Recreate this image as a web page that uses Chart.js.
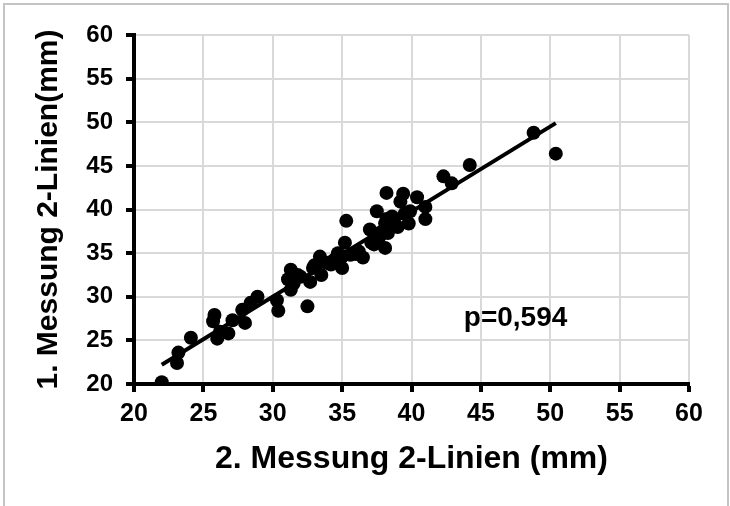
<!DOCTYPE html>
<html>
<head>
<meta charset="utf-8">
<title>Messung 2-Linien</title>
<script src="https://cdn.jsdelivr.net/npm/chart.js@4/dist/chart.umd.min.js"></script>
<style>
    html, body { margin: 0; padding: 0; background: #fff; }
    #frame {
        position: absolute;
        left: 3px;
        top: 3px;
        width: 722px;
        height: 520px;
        border: 2px solid #c4c4c4;
    }
    #chart { position: absolute; left: 0; top: 0; }
</style>
</head>
<body>
<div id="frame"></div>
<canvas id="chart" width="730" height="506"></canvas>
<script>
// 2. Messung (x) gegen 1. Messung (y), mm
const secondMeasure = [
    22.0, 23.1, 23.2, 24.1, 25.8, 25.7, 26.0, 26.2, 26.8, 27.1,
    27.8, 28.0, 28.4, 28.9, 30.4, 30.3, 31.3, 31.1, 31.3, 31.5,
    32.0, 32.5, 32.7, 32.9, 33.4, 33.5, 33.9, 34.2, 34.4, 34.7,
    35.0, 35.0, 35.2, 35.3, 35.6, 36.0, 36.5, 37.0, 37.1, 37.3,
    37.5, 37.7, 38.1, 38.2, 38.1, 38.3, 38.2, 38.8, 39.0, 39.2,
    39.4, 39.5, 39.8, 39.9, 40.4, 41.0, 41.0, 42.3, 42.9, 44.2,
    48.8, 50.4, 31.8, 33.0, 34.6, 36.2, 38.6, 37.8
];
const firstMeasure = [
    20.2, 22.4, 23.6, 25.3, 27.9, 27.2, 25.2, 26.0, 25.8, 27.3,
    28.5, 27.0, 29.3, 30.0, 28.4, 29.6, 33.1, 32.0, 30.8, 31.5,
    32.3, 28.9, 31.7, 33.3, 34.6, 32.5, 33.9, 33.7, 34.2, 35.0,
    33.3, 34.6, 36.2, 38.7, 34.8, 34.9, 34.5, 37.7, 36.2, 36.0,
    39.8, 36.9, 35.6, 41.9, 38.4, 37.3, 38.9, 38.3, 38.0, 40.9,
    41.8, 39.5, 38.4, 39.8, 41.4, 40.3, 38.9, 43.8, 43.0, 45.1,
    48.8, 46.4, 32.5, 33.6, 34.3, 35.2, 39.2, 37.4
];

// Regressionsgerade
const trendX = [22.0, 50.4];
const trendY = [22.2, 49.9];

const axisTicks = [20, 25, 30, 35, 40, 45, 50, 55, 60];
const pLabel = 'p=0,594';

const FONT = "'Liberation Sans', Arial, sans-serif";
const PLOT = { left: 134, right: 689, top: 35, bottom: 384 };
const W = 730, H = 506;

const points = secondMeasure.map((x, i) => ({ x: x, y: firstMeasure[i] }));
const trend = trendX.map((x, i) => ({ x: x, y: trendY[i] }));

// p-Wert als Text im Diagramm
const pValuePlugin = {
    id: 'pValue',
    afterDatasetsDraw(chart) {
        const ctx = chart.ctx;
        const xs = chart.scales.x, ys = chart.scales.y;
        ctx.save();
        ctx.font = 'bold 28px ' + FONT;
        ctx.fillStyle = '#000';
        ctx.textAlign = 'center';
        ctx.textBaseline = 'alphabetic';
        ctx.fillText(pLabel, xs.getPixelForValue(47.5), ys.getPixelForValue(26.7));
        ctx.restore();
    }
};

function axisOptions(isX) {
    return {
        type: 'linear',
        min: axisTicks[0],
        max: axisTicks[axisTicks.length - 1],
        afterBuildTicks(scale) {
            scale.ticks = axisTicks.map(v => ({ value: v }));
        },
        afterFit(scale) {
            if (isX) scale.height = H - PLOT.bottom;
            else scale.width = PLOT.left - 31;
        },
        ticks: {
            color: '#000',
            font: { family: FONT, size: isX ? 25 : 24, weight: 'bold' },
            padding: isX ? 7 : 13
        },
        grid: {
            color: '#d9d9d9',
            lineWidth: 2,
            tickColor: '#000',
            tickWidth: 4,
            tickLength: 8
        },
        border: { color: '#000', width: 4 },
        title: {
            display: true,
            text: isX ? '2. Messung 2-Linien (mm)' : '1. Messung 2-Linien(mm)',
            color: '#000',
            font: { family: FONT, size: isX ? 32 : 30, weight: 'bold' },
            padding: { top: 0, bottom: isX ? 28 : 0 }
        }
    };
}

new Chart(document.getElementById('chart'), {
    type: 'scatter',
    data: {
        datasets: [
            {
                data: points,
                backgroundColor: '#000',
                borderWidth: 0,
                pointRadius: 7,
                pointHoverRadius: 7
            },
            {
                type: 'line',
                data: trend,
                borderColor: '#000',
                borderWidth: 4,
                pointRadius: 0,
                fill: false
            }
        ]
    },
    options: {
        responsive: false,
        animation: false,
        devicePixelRatio: 1,
        layout: {
            padding: { left: 31, top: PLOT.top, right: W - PLOT.right, bottom: 0 }
        },
        plugins: {
            legend: { display: false },
            tooltip: { enabled: false }
        },
        scales: {
            x: axisOptions(true),
            y: axisOptions(false)
        }
    },
    plugins: [pValuePlugin]
});
</script>
</body>
</html>
